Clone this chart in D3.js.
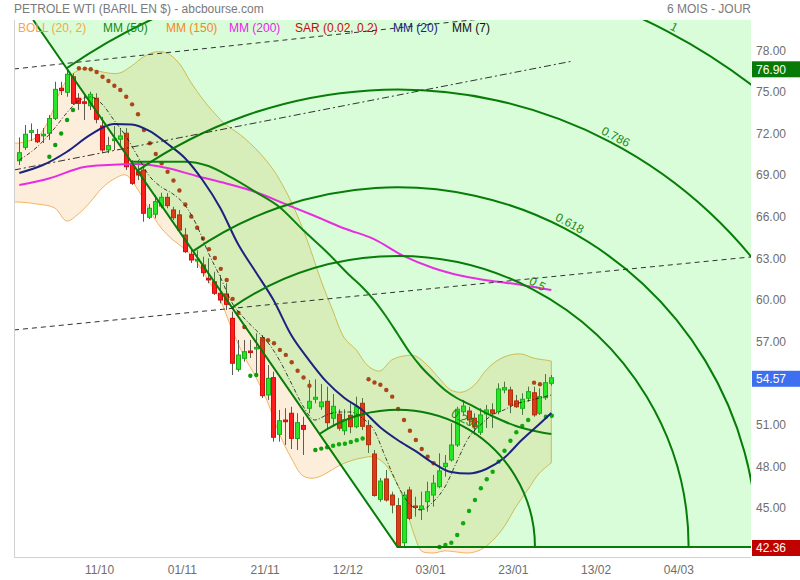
<!DOCTYPE html>
<html><head><meta charset="utf-8">
<script src="https://cdn.jsdelivr.net/npm/d3@7"></script>
<style>
body{margin:0;background:#fff;}
svg{display:block;font-family:"Liberation Sans",Arial,sans-serif;}
</style></head><body>
<svg id="c" width="800" height="580"></svg>
<script>
// ---- DATA ----
const opens  = [70.23,71.20,72.28,72.12,72.07,72.21,73.29,75.46,75.17,76.29,74.74,74.48,74.20,74.74,72.74,71.01,71.75,71.78,72.21,70.00,69.44,69.56,66.15,66.37,66.96,67.59,66.68,66.32,64.87,63.48,63.00,62.71,61.75,61.50,60.67,60.62,58.86,55.18,55.98,56.50,56.65,57.46,53.33,54.58,50.49,51.52,52.01,50.19,51.13,52.37,53.02,52.48,52.87,51.65,51.94,50.75,51.86,51.04,52.73,51.11,49.07,45.80,47.27,46.11,45.34,42.67,46.47,45.32,45.08,45.63,46.11,46.71,48.16,48.64,49.72,52.12,52.17,51.65,50.64,51.96,52.25,52.12,53.69,53.69,52.90,52.37,53.09,53.49,52.01,53.13,54.17];
const highs  = [71.91,72.81,72.92,72.52,72.59,73.53,75.93,75.93,76.90,76.54,75.10,74.97,75.21,75.10,73.39,71.96,72.74,72.59,72.59,70.28,70.28,69.92,67.11,67.76,67.92,67.90,66.91,66.68,65.38,63.93,63.77,63.31,63.19,62.22,61.99,61.39,59.34,57.30,57.30,57.30,57.78,57.66,55.49,55.01,52.25,52.37,52.48,52.01,51.76,54.41,54.46,54.12,53.93,53.40,52.30,52.30,52.73,53.21,53.11,51.52,49.36,47.34,47.92,46.35,45.90,46.35,46.71,45.99,46.35,47.07,47.56,49.12,49.00,51.29,52.48,52.97,52.48,52.01,52.37,52.61,52.73,54.17,54.29,53.93,53.33,53.45,53.93,53.93,53.81,54.84,54.77];
const lows   = [69.92,71.01,71.65,71.51,71.51,71.73,73.17,74.97,74.85,74.25,73.89,73.17,73.89,72.93,70.77,70.77,71.00,71.29,69.56,68.48,68.84,65.83,66.03,66.08,66.80,66.80,65.95,65.11,63.57,62.85,62.49,61.86,61.39,60.54,59.94,59.46,54.77,55.01,55.73,56.00,54.89,53.11,52.97,49.96,49.96,49.72,49.43,49.36,49.00,52.01,52.73,52.25,50.80,51.09,50.75,50.44,50.57,50.93,50.80,49.14,45.99,45.63,45.63,44.79,42.36,42.38,44.31,44.55,44.31,44.91,45.27,46.60,47.43,48.52,49.58,51.89,51.16,50.44,50.44,50.95,50.95,51.93,53.45,52.01,52.40,51.89,52.85,51.76,51.89,52.97,54.00];
const closes = [70.81,72.14,72.40,71.60,72.14,73.28,75.38,75.30,76.47,74.37,74.37,74.41,75.02,73.22,71.01,71.32,71.80,72.02,69.80,68.60,69.20,66.44,66.80,67.28,67.59,66.99,66.12,65.23,63.67,63.07,63.12,62.15,61.63,60.67,60.18,59.87,55.62,56.21,56.45,56.39,56.76,53.28,54.53,50.28,51.47,51.40,50.20,51.33,50.85,52.87,53.16,52.82,51.33,52.51,50.93,51.55,51.04,52.48,51.07,49.74,46.08,47.12,45.75,45.39,42.38,46.11,44.43,45.23,45.32,46.35,46.96,47.85,48.40,49.72,52.30,52.53,51.52,51.04,51.89,52.25,52.01,53.76,53.86,52.61,52.48,53.02,53.57,51.89,53.21,54.22,54.57];

// Parabolic SAR (0.02, 0.2), one value per bar (null = not shown)
const sar = [null,null,null,null,null,70.52,71.37,72.20,73.17,73.89,76.90,76.88,76.83,76.63,76.29,75.98,75.64,75.33,74.85,74.30,73.58,72.45,71.49,70.72,70.05,69.44,68.80,68.08,67.07,66.21,65.40,64.62,63.85,63.21,62.43,61.63,60.26,59.25,58.23,54.72,54.77,57.33,57.28,57.06,56.58,56.22,55.69,55.08,54.59,54.00,49.36,49.46,49.56,49.67,49.77,49.81,49.94,50.06,50.19,54.46,54.23,54.07,53.69,53.21,52.32,51.52,50.75,50.08,49.43,48.88,48.40,42.36,42.50,42.67,43.23,44.07,44.96,45.75,46.60,47.25,47.79,48.52,49.31,50.03,50.64,51.09,51.52,54.22,54.10,51.76,51.83];

// Moving averages (bar index / value)
const mm200Idx = [0,5,11,15,20,25,30,35,40,45,50,55,60,65,70,75,80,85,90];
const mm200    = [68.48,68.95,69.78,69.92,69.99,69.71,69.13,68.59,67.97,67.11,66.24,65.34,64.58,63.36,62.49,61.91,61.55,61.27,60.90];
const mm50Idx  = [19,24,28,32,36,40,44,48,52,56,58,60,62,64,66,68,70,72,74,76,80,84,88,90];
const mm50     = [70.16,70.16,70.16,69.85,68.99,67.97,66.89,65.23,63.65,61.91,61.12,60.18,59.03,57.73,56.43,55.35,54.48,53.69,53.11,52.68,51.81,51.09,50.66,50.51];
const mm20Idx  = [0,4,8,12,16,19,22,25,28,31,34,37,40,43,46,49,52,55,58,61,64,67,70,73,76,79,82,85,88,90];
const mm20     = [69.35,69.92,70.86,72.09,72.88,72.85,72.38,71.47,70.43,68.84,66.82,64.22,62.20,60.18,57.65,55.85,54.27,53.11,52.25,51.02,50.08,49.29,48.42,47.77,47.66,47.99,48.78,50.08,51.24,52.03];
const mm7Idx   = [0,3,6,8,10,12,14,16,18,20,22,24,26,28,30,32,34,36,38,40,42,44,46,48,50,52,54,56,58,60,62,64,66,68,70,72,74,76,78,80,82,84,86,88,90];
const mm7      = [70.28,71.22,72.59,73.67,74.54,74.83,74.32,73.17,72.02,70.57,69.13,68.34,67.83,67.04,65.59,63.57,61.84,59.97,58.89,58.02,57.15,55.85,54.19,52.53,51.52,51.89,52.10,52.10,51.67,50.80,48.78,46.84,45.47,45.03,45.61,46.69,48.50,50.23,51.16,51.89,52.25,52.68,52.90,53.11,53.33];

// Bollinger (20, 2)
const bollUpIdx = [0,3,5,7,9,11,13,15,17,19,21,23,25,27,29,31,33,35,37,39,41,43,45,47,49,51,53,55,57,59,61,63,65,67,69,71,73,75,77,79,81,83,85,87,89,90];
const bollUp    = [71.51,71.94,73.17,75.33,76.49,76.89,76.74,76.56,76.56,77.07,77.72,78.08,78.00,77.28,75.91,74.69,73.67,72.81,72.23,71.51,70.64,69.56,68.12,66.32,64.15,61.63,59.46,57.44,56.58,55.42,55.06,55.85,56.14,56.14,55.49,54.55,53.69,53.54,54.05,55.13,55.85,56.21,56.28,55.99,55.85,55.78];
const bollLoIdx = [0,3,6,8,10,12,14,16,18,20,22,24,26,28,30,32,34,36,38,40,42,44,46,48,50,52,54,56,58,60,62,64,65,66,67,68,70,72,74,76,78,80,82,84,86,88,90];
const bollLo    = [67.25,67.11,66.82,65.88,66.39,67.25,68.26,68.91,69.20,68.19,66.68,65.38,64.51,63.86,62.92,61.55,60.18,58.02,56.14,54.63,52.83,50.52,48.79,47.49,47.34,47.70,48.21,48.57,48.79,48.86,48.28,46.84,45.75,44.31,43.01,42.08,41.93,42.08,42.00,41.93,42.15,42.80,43.81,45.25,46.48,47.70,48.43];

// Fibonacci arcs: anchors (bar index, price) and levels
const fibHigh = [8, 76.90];
const fibLow  = [64, 42.36];
const fibLevels = [1, 0.786, 0.618, 0.5, 0.236];
const fibLabels = ["1", "0.786", "0.618", "0.5", "0.236"];

// Trend lines: [barIndex, price] anchors
const chanTop = [[-0.9, 76.85], [120, 82.37]];
const chanBot = [[-0.9, 58.02], [123.8, 63.29]];
const chanMid = [[-0.9, 69.56], [93.7, 77.43]];

// Axes
const xTickIdx    = [14, 28, 42, 56, 70, 84, 98, 112];
const xTickLabels = ["11/10", "01/11", "21/11", "12/12", "03/01", "23/01", "13/02", "04/03"];
const yTicks = [78, 75, 72, 69, 66, 63, 60, 57, 51, 48, 45];
const markVals   = [76.90, 54.57, 42.36];
const markColors = ["#077a07", "#3d6ff0", "#c10000"];

const legendNames  = ["BOLL (20, 2)", "MM (50)", "MM (150)", "MM (200)", "SAR (0.02, 0.2)", "MM (20)", "MM (7)"];
const legendColors = ["#f4a84e", "#128a12", "#f5871f", "#f020f0", "#cc0a0a", "#1b237f", "#111"];

// ---- LAYOUT ----
const L = 14, R = 751, T = 20, B = 557;
const svg = d3.select("#c");
const x = d3.scaleLinear().domain([0, 90]).range([19.3, 551.3]);
const y = d3.scaleLinear().domain([42.36, 76.90]).range([547, 68.3]);

svg.append("defs").append("clipPath").attr("id", "clip")
  .append("rect").attr("x", L).attr("y", T).attr("width", R - L).attr("height", B - T);
const g = svg.append("g").attr("clip-path", "url(#clip)");

// Bollinger band
const lc = d3.line().curve(d3.curveCatmullRom.alpha(0.5));
const up = bollUpIdx.map((i, k) => [x(i), y(bollUp[k])]);
const lo = bollLoIdx.map((i, k) => [x(i), y(bollLo[k])]);
up.unshift([L, up[0][1]]); lo.unshift([L, lo[0][1]]);
const bandPath = lc(up) + "L" + lc(lo.slice().reverse()).slice(1) + "Z";
g.append("path").attr("d", bandPath).attr("fill", "#f7a54a").attr("fill-opacity", 0.2)
  .attr("stroke", "#f2b45e").attr("stroke-width", 1);

// Candles
const idx = d3.range(opens.length);
const cg = g.append("g");
cg.selectAll("line.w").data(idx).join("line")
  .attr("x1", i => Math.round(x(i)) + 0.5).attr("x2", i => Math.round(x(i)) + 0.5)
  .attr("y1", i => y(highs[i])).attr("y2", i => y(lows[i]))
  .attr("stroke", "#5c5c50").attr("stroke-width", 1);
cg.selectAll("rect").data(idx).join("rect")
  .attr("x", i => Math.round(x(i)) - 1.5).attr("width", 4)
  .attr("y", i => Math.min(y(opens[i]), y(closes[i])))
  .attr("height", i => Math.max(1.5, Math.abs(y(opens[i]) - y(closes[i]))))
  .attr("fill", i => closes[i] >= opens[i] ? "#2ae52a" : "#ff1c1c")
  .attr("stroke", i => closes[i] >= opens[i] ? "#18a818" : "#d00c0c")
  .attr("stroke-width", 1);

// SAR
g.selectAll("circle.sar").data(idx.filter(i => sar[i] != null)).join("circle")
  .attr("cx", i => x(i) + 0.5).attr("cy", i => y(sar[i])).attr("r", 2.2)
  .attr("fill", i => sar[i] < lows[i] ? "#0c9c0c" : "#c8281a");

// Fibonacci zone (translucent overlay)
const ph = [x(fibHigh[0]), y(fibHigh[1])], pl = [x(fibLow[0]), y(fibLow[1])];
const xTop = ph[0] + (T - ph[1]) * (pl[0] - ph[0]) / (pl[1] - ph[1]);
g.append("path").attr("d", `M${xTop},${T}L${pl[0]},${pl[1]}L${R},${pl[1]}L${R},${T}Z`)
  .attr("fill", "rgb(17,236,17)").attr("fill-opacity", 0.16);

// Moving averages
const ml = d3.line().curve(d3.curveMonotoneX);
function drawMA(ix, vals, color, w, dash) {
  const p = g.append("path").attr("d", ml(ix.map((i, k) => [x(i), y(vals[k])])))
    .attr("fill", "none").attr("stroke", color).attr("stroke-width", w);
  if (dash) p.attr("stroke-dasharray", dash);
}
drawMA(mm200Idx, mm200, "#e62ee0", 2);
drawMA(mm50Idx, mm50, "#0b820b", 2);
drawMA(mm20Idx, mm20, "#1b237f", 2);
drawMA(mm7Idx, mm7, "#111", 0.8, "4,2,1,2");

// Fibonacci arcs
const fibColor = "#087c08";
g.append("path").attr("d", `M${xTop},${T}L${pl[0]},${pl[1]}L${R + 5},${pl[1]}`)
  .attr("fill", "none").attr("stroke", fibColor).attr("stroke-width", 2);
const R1 = Math.hypot(ph[0] - pl[0], ph[1] - pl[1]);
fibLevels.forEach((lv, k) => {
  const r = R1 * lv;
  const sx = pl[0] + lv * (ph[0] - pl[0]), sy = pl[1] + lv * (ph[1] - pl[1]);
  g.append("path").attr("d", `M${sx},${sy}A${r},${r} 0 0 1 ${pl[0] + r},${pl[1]}`)
    .attr("fill", "none").attr("stroke", fibColor).attr("stroke-width", 2);
  const a = 62 * Math.PI / 180;
  const lx = pl[0] + (r + 1) * Math.cos(a), ly = pl[1] - (r + 1) * Math.sin(a);
  g.append("text").attr("transform", `translate(${lx},${ly}) rotate(28)`)
    .attr("text-anchor", "middle").attr("dy", -2).attr("font-size", 12)
    .attr("fill", "#188a18").text(fibLabels[k]);
});

// Channel lines
function drawLine(pts, dash) {
  g.append("path").attr("d", d3.line()(pts.map(p => [x(p[0]), y(p[1])])))
    .attr("fill", "none").attr("stroke", "#333").attr("stroke-width", 1)
    .attr("stroke-dasharray", dash);
}
drawLine(chanTop, "5,4");
drawLine(chanBot, "5,4");
drawLine(chanMid, "7,3,2,3");

// Frame
svg.append("path").attr("d", `M${L + 0.5},${T}V${B + 0.5}H${R}`)
  .attr("fill", "none").attr("stroke", "#d0d0d0").attr("stroke-width", 1);

// X axis labels
svg.append("g").selectAll("text").data(xTickIdx).join("text")
  .attr("x", i => x(i) - 2.5).attr("y", 570).attr("dy", "0.35em")
  .attr("text-anchor", "middle").attr("font-size", 12).attr("fill", "#6e6e6e")
  .text((d, k) => xTickLabels[k]);

// Y axis labels
svg.append("g").selectAll("text").data(yTicks).join("text")
  .attr("x", 756).attr("y", v => y(v) - 2.5).attr("dy", "0.35em")
  .attr("font-size", 12).attr("fill", "#6e6e6e").text(d3.format(".2f"));

// Value markers
const mk = svg.append("g").selectAll("g").data(markVals).join("g");
mk.append("rect").attr("x", 752).attr("y", v => y(v) + 1 - 8).attr("width", 48).attr("height", 16)
  .attr("fill", (v, k) => markColors[k]);
mk.append("text").attr("x", 756).attr("y", v => y(v) + 1).attr("dy", "0.35em")
  .attr("font-size", 12).attr("fill", "#fff").text(d3.format(".2f"));

// Legend
const legX = [18, 103, 166, 229, 295, 393, 452];
svg.append("g").selectAll("text").data(legendNames).join("text")
  .attr("x", (d, k) => legX[k]).attr("y", 28).attr("dy", "0.35em")
  .attr("font-size", 12).attr("fill", (d, k) => legendColors[k]).text(d => d);

// Title
svg.append("text").attr("x", 14).attr("y", 8.5).attr("dy", "0.35em").attr("font-size", 12)
  .attr("fill", "#7a7a7a").text("PETROLE WTI (BARIL EN $) - abcbourse.com");
svg.append("text").attr("x", 751).attr("y", 8.5).attr("dy", "0.35em").attr("font-size", 12)
  .attr("text-anchor", "end").attr("fill", "#7a7a7a").text("6 MOIS - JOUR");
</script>
</body></html>
